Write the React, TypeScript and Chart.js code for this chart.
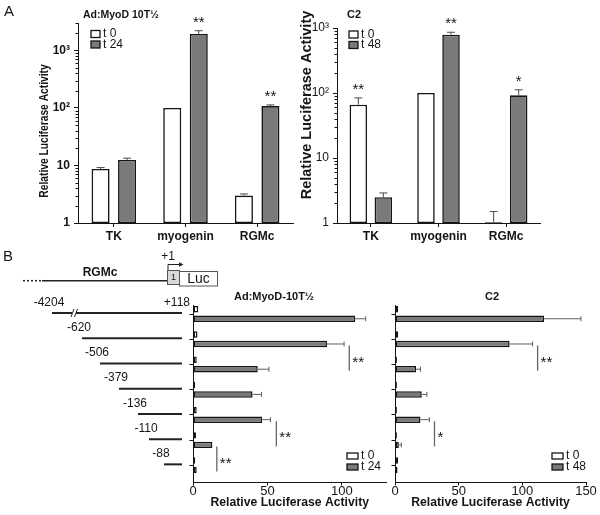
import React, { useEffect, useRef } from "react";
import { Chart, registerables } from "chart.js";

Chart.register(...registerables);

const FONT = "'Liberation Sans', Arial, Helvetica, sans-serif";
const INK = "#151515";
const BAR_GRAY = "#7a7a7a";
const ERR_COLOR = "#4a4a4a";

// ===== Panel A : promoter activity (log scale) =====
const promoters = ["TK", "myogenin", "RGMc"];
const logTickValues = [1, 10, 100, 1000];
const logTickLabels = ["1", "10", "10²", "10³"];

const myodLegend = ["t 0", "t 24"];
const myodT0 = [8.7, 100, 3.0];
const myodT0Err = [9.2, 100, 3.2];
const myodT24 = [12.5, 1930, 108];
const myodT24Err = [13.4, 2200, 113];
const myodStarsT0 = ["", "", ""];
const myodStarsT24 = ["", "**", "**"];

const c2Legend = ["t 0", "t 48"];
const c2T0 = [66, 100, 1.03];
const c2T0Err = [84, 100, 1.5];
const c2T48 = [2.5, 790, 92];
const c2T48Err = [2.9, 860, 112];
const c2StarsT0 = ["**", "", ""];
const c2StarsT48 = ["", "**", "*"];

// ===== Panel B : RGMc promoter deletions =====
const constructs = ["-4204", "-620", "-506", "-379", "-136", "-110", "-88"];
const constructEnd = "+118";
const bTicksMyod = [0, 50, 100];
const bTicksC2 = [0, 50, 100, 150];

const bMyodLegend = ["t 0", "t 24"];
const bMyodT0 = [3.5, 3, 2.5, 1.5, 2.5, 2, 1.5];
const bMyodT24 = [109, 90, 43.5, 40, 46.5, 13, 2.5];
const bMyodT24Err = [116, 101.5, 51, 46, 52, 13, 2.5];
const bMyodSig = [
  { from: 1, to: 2, at: 105, label: "**" },
  { from: 4, to: 5, at: 56, label: "**" },
  { from: 5, to: 6, at: 16, label: "**" },
];

const bC2Legend = ["t 0", "t 48"];
const bC2T0 = [2.5, 2.5, 1.5, 1.5, 1.5, 1.5, 2.5];
const bC2T48 = [117, 90, 16.5, 21, 20, 3, 2];
const bC2T48Err = [146, 108, 20, 25, 27, 5, 2];
const bC2Sig = [
  { from: 1, to: 2, at: 112, label: "**" },
  { from: 4, to: 5, at: 31, label: "*" },
];

// ---------- drawing helpers ----------
const font = (size: number, bold = false) => `${bold ? "bold " : ""}${size}px ${FONT}`;

function drawText(
  ctx: CanvasRenderingContext2D, s: string, x: number, y: number, f: string,
  align: CanvasTextAlign = "left", rot = 0, baseline: CanvasTextBaseline = "middle", squeeze = 1
) {
  ctx.save();
  ctx.translate(x, y);
  if (rot) ctx.rotate(rot);
  if (squeeze !== 1) ctx.scale(squeeze, 1);
  ctx.font = f;
  ctx.fillStyle = INK;
  ctx.textAlign = align;
  ctx.textBaseline = baseline;
  ctx.fillText(s, 0, 0);
  ctx.restore();
}

function seg(ctx: CanvasRenderingContext2D, x1: number, y1: number, x2: number, y2: number, color: string, lw: number, dash: number[] = []) {
  ctx.save();
  ctx.strokeStyle = color;
  ctx.lineWidth = lw;
  ctx.setLineDash(dash);
  ctx.beginPath();
  ctx.moveTo(x1, y1);
  ctx.lineTo(x2, y2);
  ctx.stroke();
  ctx.restore();
}

function drawLegend(ctx: CanvasRenderingContext2D, x: number, y: number, labels: string[], fills: string[], bw: number, bh: number, rowH: number, f: string) {
  labels.forEach((l, i) => {
    const cy = y + i * rowH;
    ctx.save();
    ctx.fillStyle = fills[i];
    ctx.strokeStyle = INK;
    ctx.lineWidth = 1.3;
    ctx.fillRect(x, cy - bh / 2, bw, bh);
    ctx.strokeRect(x, cy - bh / 2, bw, bh);
    ctx.restore();
    drawText(ctx, l, x + bw + 3, cy, f);
  });
}

// ---------- Panel A config ----------
function makeAConfig(o: {
  t0: number[]; t1: number[]; errs: number[][]; stars: string[][]; legend: string[];
  max: number; yWidth: number; padTop: number; padRight: number; xHeight: number;
  yTickBold: boolean; cp: number; bp: number; deco: (ctx: CanvasRenderingContext2D, chart: any) => void;
}) {
  const axisGrid = { offset: false, drawOnChartArea: false, drawTicks: true, tickLength: 4, color: INK, lineWidth: 1 };
  return {
    type: "bar",
    data: {
      labels: promoters,
      datasets: [
        { label: o.legend[0], data: o.t0, backgroundColor: "#ffffff", borderColor: INK, borderWidth: 1.6, borderSkipped: false, categoryPercentage: o.cp, barPercentage: o.bp },
        { label: o.legend[1], data: o.t1, backgroundColor: BAR_GRAY, borderColor: INK, borderWidth: 1.6, borderSkipped: false, categoryPercentage: o.cp, barPercentage: o.bp },
      ],
    },
    options: {
      animation: false,
      responsive: false,
      devicePixelRatio: 1,
      events: [],
      layout: { padding: { top: o.padTop, right: o.padRight, left: 0, bottom: 0 } },
      plugins: { legend: { display: false }, tooltip: { enabled: false }, title: { display: false } },
      scales: {
        x: {
          type: "category",
          offset: true,
          grid: axisGrid,
          border: { display: true, color: INK, width: 1 },
          ticks: { font: { family: FONT, size: 12, weight: "bold", lineHeight: 1 }, color: INK, padding: 4, maxRotation: 0, autoSkip: false },
          afterFit: (s: any) => { s.height = o.xHeight; },
        },
        y: {
          type: "logarithmic",
          min: 1,
          max: o.max,
          grid: axisGrid,
          border: { display: true, color: INK, width: 1 },
          ticks: {
            font: { family: FONT, size: 12, weight: o.yTickBold ? "bold" : "normal", lineHeight: 1 },
            color: INK, padding: 4, autoSkip: false,
            callback: (_v: any, i: number) => logTickLabels[i] ?? "",
          },
          afterBuildTicks: (s: any) => { s.ticks = logTickValues.map((v) => ({ value: v })); },
          afterFit: (s: any) => { s.width = o.yWidth; },
        },
      },
    },
    plugins: [
      {
        id: "panelADeco",
        afterDatasetsDraw(chart: any) {
          const ctx: CanvasRenderingContext2D = chart.ctx;
          const ys = chart.scales.y;
          const area = chart.chartArea;
          // minor log ticks
          for (let d = 1; d < o.max; d *= 10) {
            for (let m = 2; m <= 9; m++) {
              const v = d * m;
              if (v > o.max) break;
              const py = Math.round(ys.getPixelForValue(v)) + 0.5;
              seg(ctx, area.left - 2.5, py, area.left, py, INK, 1);
            }
          }
          // error bars + significance stars
          o.errs.forEach((errArr, di) => {
            const meta = chart.getDatasetMeta(di);
            const vals = chart.data.datasets[di].data as number[];
            meta.data.forEach((el: any, i: number) => {
              let top = el.y;
              if (errArr[i] > vals[i]) {
                const ey = ys.getPixelForValue(errArr[i]);
                seg(ctx, el.x, el.y, el.x, ey, ERR_COLOR, 1);
                seg(ctx, el.x - 4, ey, el.x + 4, ey, ERR_COLOR, 1);
                top = ey;
              }
              const s = o.stars[di][i];
              if (s) drawText(ctx, s, el.x, top - 4, font(15), "center", 0, "alphabetic");
            });
          });
          o.deco(ctx, chart);
        },
      },
    ],
  };
}

// ---------- Panel B config ----------
type Sig = { from: number; to: number; at: number; label: string };

function makeBConfig(o: {
  t0: number[]; t1: number[]; err1: number[]; sig: Sig[]; legend: string[];
  max: number; xTicks: number[]; yWidth: number; padRight: number;
  deco: (ctx: CanvasRenderingContext2D, chart: any) => void;
}) {
  const rows = constructs.map((_, i) => i + 1);
  const axisGrid = { offset: false, drawOnChartArea: false, drawTicks: true, tickLength: 3.5, color: INK, lineWidth: 1 };
  const common = { borderColor: INK, borderWidth: 1.5, borderSkipped: false, categoryPercentage: 0.754, barPercentage: 0.68 };
  return {
    type: "bar",
    data: {
      datasets: [
        { label: o.legend[0], data: o.t0.map((v, i) => ({ x: v, y: rows[i] })), backgroundColor: "#ffffff", ...common },
        { label: o.legend[1], data: o.t1.map((v, i) => ({ x: v, y: rows[i] })), backgroundColor: BAR_GRAY, ...common },
      ],
    },
    options: {
      indexAxis: "y",
      animation: false,
      responsive: false,
      devicePixelRatio: 1,
      events: [],
      layout: { padding: { top: 55, right: o.padRight, left: 0, bottom: 0 } },
      plugins: { legend: { display: false }, tooltip: { enabled: false }, title: { display: false } },
      scales: {
        x: {
          type: "linear",
          min: 0,
          max: o.max,
          grid: axisGrid,
          border: { display: true, color: INK, width: 1 },
          ticks: { font: { family: FONT, size: 13, lineHeight: 1 }, color: INK, padding: -1, maxRotation: 0, autoSkip: false },
          afterBuildTicks: (s: any) => { s.ticks = o.xTicks.map((v) => ({ value: v })); },
          title: {
            display: true,
            text: "Relative Luciferase Activity",
            font: { family: FONT, size: 12.2, weight: "bold", lineHeight: 1.2 },
            color: INK,
            padding: { top: 0, bottom: 5 },
          },
          afterFit: (s: any) => { s.height = 33; },
        },
        y: {
          type: "linear",
          reverse: true,
          offset: false,
          min: 0.643,
          max: 7.66,
          grid: axisGrid,
          border: { display: true, color: INK, width: 1 },
          ticks: { callback: () => "", autoSkip: false },
          afterBuildTicks: (s: any) => { s.ticks = rows.map((v) => ({ value: v })); },
          afterFit: (s: any) => { s.width = o.yWidth; },
        },
      },
    },
    plugins: [
      {
        id: "panelBDeco",
        afterDatasetsDraw(chart: any) {
          const ctx: CanvasRenderingContext2D = chart.ctx;
          const xs = chart.scales.x;
          const meta = chart.getDatasetMeta(1);
          meta.data.forEach((el: any, i: number) => {
            if (o.err1[i] > o.t1[i] + 0.2) {
              const ex = xs.getPixelForValue(o.err1[i]);
              seg(ctx, el.x, el.y, ex, el.y, "#606060", 1);
              seg(ctx, ex, el.y - 2.5, ex, el.y + 2.5, "#606060", 1);
            }
          });
          o.sig.forEach((b) => {
            const x = xs.getPixelForValue(b.at);
            const yA = meta.data[b.from].y + 1.5;
            const yB = meta.data[b.to].y + 1.5;
            seg(ctx, x, yA, x, yB, "#666666", 1.3);
            drawText(ctx, b.label, x + 3, (yA + yB) / 2 + 8.7, font(15), "left", 0, "alphabetic");
          });
          o.deco(ctx, chart);
        },
      },
    ],
  };
}

// schematic (layout only) start positions of the deletion constructs in the drawing
const schematicStartX = [52, 82, 100, 119, 138, 149, 164];

function drawConstructDiagram(ctx: CanvasRenderingContext2D, chart: any) {
  const ys = chart.scales.y;
  const endX = chart.chartArea.left - 11;
  let firstY = 0;
  constructs.forEach((lab, i) => {
    const y = ys.getPixelForValue(i + 1) - 1;
    if (i === 0) firstY = y;
    const sx = schematicStartX[i];
    seg(ctx, sx, y, endX, y, "#222222", 2);
    drawText(ctx, lab, sx - 3, y - 10.5, font(12), "center");
  });
  drawText(ctx, constructEnd, endX + 8, firstY - 10.5, font(12), "right");
  // break marks on the longest construct
  const bx = schematicStartX[0] + 21;
  ctx.save();
  ctx.fillStyle = "#ffffff";
  ctx.fillRect(bx - 1, firstY - 1.5, 4, 3);
  ctx.restore();
  seg(ctx, bx - 2, firstY + 4, bx + 1, firstY - 4, "#222222", 1);
  seg(ctx, bx + 1.5, firstY + 4, bx + 4.5, firstY - 4, "#222222", 1);

  // gene header: RGMc promoter -> exon 1 -> Luc
  const gy = 30.7;
  seg(ctx, 23, gy, 42, gy, "#222222", 1.5, [2, 2]);
  seg(ctx, 42, gy, 167, gy, "#222222", 1.5);
  drawText(ctx, "RGMc", 100, 23, font(12, true), "center");
  ctx.save();
  ctx.fillStyle = "#d9d9d9";
  ctx.strokeStyle = "#555555";
  ctx.lineWidth = 1;
  ctx.fillRect(167, 20, 12, 14);
  ctx.strokeRect(167.5, 20.5, 12, 14);
  ctx.fillStyle = "#ffffff";
  ctx.fillRect(179.5, 21.5, 38, 14.5);
  ctx.strokeRect(179.5, 21.5, 38, 14.5);
  ctx.restore();
  drawText(ctx, "1", 173.5, 28, font(9), "center");
  drawText(ctx, "Luc", 198.5, 29, font(14), "center");
  // transcription start arrow
  ctx.save();
  ctx.strokeStyle = "#222222";
  ctx.lineWidth = 1;
  ctx.beginPath();
  ctx.moveTo(168, 20);
  ctx.lineTo(168, 14.5);
  ctx.lineTo(180, 14.5);
  ctx.stroke();
  ctx.fillStyle = "#222222";
  ctx.beginPath();
  ctx.moveTo(183.5, 14.5);
  ctx.lineTo(179, 12.3);
  ctx.lineTo(179, 16.7);
  ctx.closePath();
  ctx.fill();
  ctx.restore();
  drawText(ctx, "+1", 168, 7, font(12), "center");
}

// ---------- chart host ----------
function ChartBox(props: { left: number; top: number; width: number; height: number; make: () => any }) {
  const ref = useRef<HTMLCanvasElement>(null);
  useEffect(() => {
    const chart = new Chart(ref.current as HTMLCanvasElement, props.make());
    return () => chart.destroy();
  }, []);
  const { left, top, width, height } = props;
  return (
    <canvas
      ref={ref}
      width={width}
      height={height}
      style={{ position: "absolute", left, top, width, height, display: "block" }}
    />
  );
}

export default function App() {
  return (
    <div style={{ position: "absolute", left: 0, top: 0, width: 600, height: 515, background: "#ffffff", overflow: "hidden" }}>
      <ChartBox
        left={0} top={0} width={300} height={250}
        make={() =>
          makeAConfig({
            t0: myodT0, t1: myodT24, errs: [myodT0Err, myodT24Err], stars: [myodStarsT0, myodStarsT24], legend: myodLegend,
            max: 3000, yWidth: 78, padTop: 23, padRight: 7, xHeight: 27, yTickBold: true, cp: 0.74, bp: 0.68,
            deco: (ctx) => {
              drawText(ctx, "A", 4, 12, font(15));
              drawText(ctx, "Ad:MyoD 10T½", 83, 15, font(10.5, true));
              drawLegend(ctx, 91, 34, myodLegend, ["#ffffff", BAR_GRAY], 9, 7, 10.5, font(12));
              drawText(ctx, "Relative Luciferase Activity", 45, 131, font(12.5, true), "center", -Math.PI / 2, "middle", 0.82);
            },
          })
        }
      />
      <ChartBox
        left={298} top={0} width={302} height={250}
        make={() =>
          makeAConfig({
            t0: c2T0, t1: c2T48, errs: [c2T0Err, c2T48Err], stars: [c2StarsT0, c2StarsT48], legend: c2Legend,
            max: 1000, yWidth: 39, padTop: 28, padRight: 60, xHeight: 27, yTickBold: false, cp: 0.74, bp: 0.7,
            deco: (ctx) => {
              drawText(ctx, "C2", 49, 15, font(11, true));
              drawLegend(ctx, 51, 34.5, c2Legend, ["#ffffff", BAR_GRAY], 9, 7, 10.5, font(12));
              drawText(ctx, "Relative Luciferase Activity", 9, 105, font(14.5, true), "center", -Math.PI / 2);
            },
          })
        }
      />
      <ChartBox
        left={0} top={250} width={390} height={265}
        make={() =>
          makeBConfig({
            t0: bMyodT0, t1: bMyodT24, err1: bMyodT24Err, sig: bMyodSig, legend: bMyodLegend,
            max: 130, xTicks: bTicksMyod, yWidth: 193, padRight: 3.5,
            deco: (ctx, chart) => {
              drawText(ctx, "B", 3, 7, font(15));
              drawText(ctx, "Ad:MyoD-10T½", 274, 47, font(11, true), "center");
              drawLegend(ctx, 347, 206, bMyodLegend, ["#ffffff", BAR_GRAY], 11, 6, 11, font(12));
              drawConstructDiagram(ctx, chart);
            },
          })
        }
      />
      <ChartBox
        left={388} top={250} width={212} height={265}
        make={() =>
          makeBConfig({
            t0: bC2T0, t1: bC2T48, err1: bC2T48Err, sig: bC2Sig, legend: bC2Legend,
            max: 150, xTicks: bTicksC2, yWidth: 7, padRight: 14,
            deco: (ctx) => {
              drawText(ctx, "C2", 104, 47, font(11, true), "center");
              drawLegend(ctx, 164, 206, bC2Legend, ["#ffffff", BAR_GRAY], 11, 6, 11, font(12));
            },
          })
        }
      />
    </div>
  );
}
